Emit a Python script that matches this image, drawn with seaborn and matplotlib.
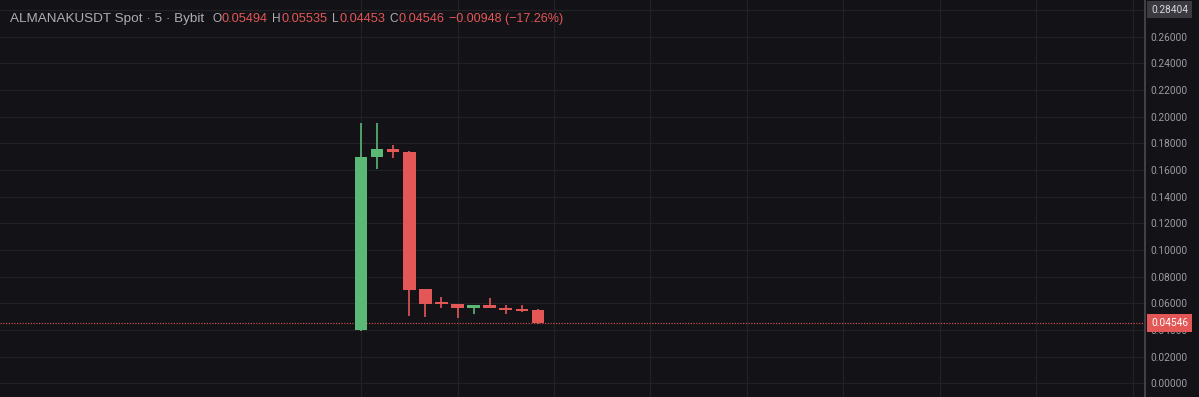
"""
ALMANAKUSDT 5m candles (Bybit spot) - dark chart recreation
"""

import numpy as np
import pandas as pd
import matplotlib
matplotlib.use("Agg")
import matplotlib.pyplot as plt
from matplotlib.transforms import blended_transform_factory
import seaborn as sns

# candle data
bar_idx = list(range(12))
opens = [0.0400, 0.1695, 0.1760, 0.1737, 0.0705, 0.0608, 0.0593, 0.0563, 0.0590, 0.0567, 0.0560, 0.05494]
highs = [0.1950, 0.1950, 0.1787, 0.1740, 0.0705, 0.0650, 0.0593, 0.0590, 0.0638, 0.0585, 0.0585, 0.05535]
lows = [0.0395, 0.1610, 0.1688, 0.0507, 0.0495, 0.0563, 0.0487, 0.0520, 0.0563, 0.0520, 0.0535, 0.04453]
closes = [0.1700, 0.1757, 0.1737, 0.0700, 0.0595, 0.0593, 0.0563, 0.0590, 0.0563, 0.0550, 0.0540, 0.04546]

# header / price scale
symbol_label = "ALMANAKUSDT Spot · 5 · Bybit"
ohlc_labels = [("O", "0.05494"), ("H", "0.05535"), ("L", "0.04453"), ("C", "0.04546")]
change_label = "\u22120.00948 (\u221217.26%)"
price_ticks = [0.00, 0.02, 0.04, 0.06, 0.08, 0.10, 0.12, 0.14, 0.16, 0.18, 0.20, 0.22, 0.24, 0.26, 0.28]
last_price = 0.04546
high_marker = 0.28404

BG = "#131217"
GRID = "#222126"
UP = "#5bb877"
DOWN = "#e45757"
TXT = "#9c9ba1"
HEAD = "#aeadb3"

W, H = 1199, 397

sns.set_theme(style="dark", rc={
    "axes.facecolor": BG,
    "figure.facecolor": BG,
    "axes.edgecolor": BG,
    "grid.color": GRID,
})
plt.rcParams["font.family"] = ["Liberation Sans", "DejaVu Sans"]

df = pd.DataFrame({"bar": bar_idx, "open": opens, "high": highs,
                   "low": lows, "close": closes})
df["up"] = df["close"] >= df["open"]
df["color"] = np.where(df["up"], UP, DOWN)
df["body_lo"] = df[["open", "close"]].min(axis=1)
df["body_h"] = (df["open"] - df["close"]).abs().clip(lower=0.0007)

fig = plt.figure(figsize=(W / 100, H / 100), dpi=100)
ax_w = 1144.5 / W
ax = fig.add_axes([0, 0, ax_w, 1])

# wicks then bodies
ax.vlines(df["bar"], df["low"], df["high"], colors=df["color"], linewidth=1.2, zorder=3)
ax.bar(df["bar"], df["body_h"], bottom=df["body_lo"], width=0.78,
       color=df["color"], linewidth=0, zorder=4)

ax.set_xlim(-22.45, 48.72)
ax.set_ylim(-0.0103, 0.2875)

ax.set_xticks(range(0, 49, 6))
ax.set_xticklabels([])
ax.set_yticks(price_ticks)
ax.yaxis.tick_right()
# 0.28 label sits under the high marker box
ax.set_yticklabels([f"{v:.5f}" if v < 0.27 else "" for v in price_ticks])
ax.tick_params(axis="y", length=0, pad=4.5, labelsize=7.3, labelcolor=TXT)
ax.tick_params(axis="x", length=0)
for lab in ax.get_yticklabels():
    lab.set_fontfamily(["Roboto", "DejaVu Sans"])
ax.grid(True, color=GRID, linewidth=0.9)
sns.despine(ax=ax, left=True, bottom=True, top=True, right=True)

# price scale separator
ax.axvline(48.72, color="#4a4a50", linewidth=1.2, zorder=5, clip_on=False)

# last price dotted line + labels on price scale
ax.axhline(last_price, color=DOWN, linewidth=0.9, linestyle=(0, (1, 1.2)), alpha=0.85, zorder=2)
trans = blended_transform_factory(ax.transAxes, ax.transData)
box_x = 1 + 6.5 / 1144.5
ax.text(box_x, last_price, f"{last_price:.5f}", transform=trans, ha="left", va="center",
        fontsize=7.3, color="white", family=["Roboto", "DejaVu Sans"], clip_on=False, zorder=6,
        bbox=dict(boxstyle="square,pad=0.38", fc=DOWN, ec="none"))
ax.text(box_x, 0.2803, f"{high_marker:.5f}", transform=trans, ha="left", va="center",
        fontsize=7.3, color="#d6d6da", family=["Roboto", "DejaVu Sans"], clip_on=False, zorder=6,
        bbox=dict(boxstyle="square,pad=0.38", fc="#3a3a40", ec="none"))

# header
ty = 1 - 19 / H
fig.text(10 / W, ty, symbol_label, color=HEAD, fontsize=9.7, va="center")
value_x = [222, 281.5, 339, 398.5]
for vx, (k, v) in zip(value_x, ohlc_labels):
    fig.text((vx - 0.5) / W, ty, k, color=HEAD, fontsize=8.6, va="center", ha="right")
    fig.text(vx / W, ty, v, color=DOWN, fontsize=9.2, va="center")
fig.text(449 / W, ty, change_label, color=DOWN, fontsize=9.0, va="center")

fig.savefig("out.png", dpi=100, facecolor=BG)
